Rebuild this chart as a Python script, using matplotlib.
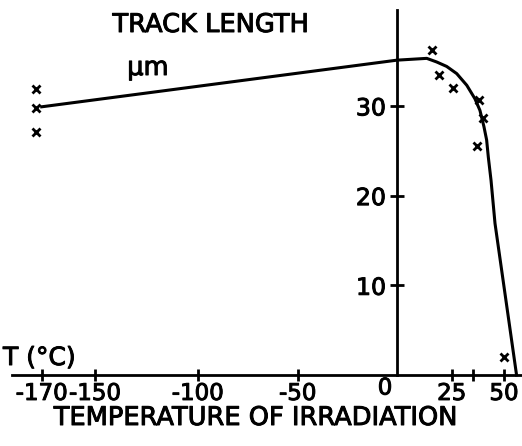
import numpy as np
import matplotlib
matplotlib.use("Agg")
import matplotlib.pyplot as plt
import matplotlib.patheffects as pe
from matplotlib.scale import FuncScale

# fitted curve (temperature in degC, track length in um)
curve_t = [-170, 0, 13.6, 18.1, 22.7, 27.4, 32.2, 36.1, 38.5, 40.4, 41.7, 42.5, 43.8, 45.7, 56.0]
curve_len = [29.9, 35.1, 35.3, 34.9, 34.4, 33.6, 32.3, 30.8, 29.5, 27.7, 26.2, 24.3, 21.7, 16.9, 0.0]

# measured points
pts_t = [-172, -172, -172, 15.9, 19.3, 25.8, 38.0, 39.8, 37.0, 50.0]
pts_len = [31.9, 29.8, 27.1, 36.2, 33.5, 32.0, 30.7, 28.7, 25.5, 2.0]

x_ticks = [-170, -150, -100, -50, 25, 35, 50]
x_tick_labels = ["-170", "-150", "-100", "-50", "25", "", "50"]
y_ticks = [10, 20, 30]

# the hand drawn temperature axis is not evenly spaced
knot_t = [-170, -150, -100, -50, 0, 25, 50]
knot_px = [41.7, 95, 197.7, 297.7, 397, 451.7, 504]
lo_slope = (knot_px[1] - knot_px[0]) / (knot_t[1] - knot_t[0])
hi_slope = (knot_px[-1] - knot_px[-2]) / (knot_t[-1] - knot_t[-2])
kt = [-1000] + knot_t + [1000]
kp = [knot_px[0] - 830 * lo_slope] + knot_px + [knot_px[-1] + 950 * hi_slope]


def fwd(t):
    return np.interp(np.asarray(t, float), kt, kp)


def inv(p):
    return np.interp(np.asarray(p, float), kp, kt)


W, H = 522, 446
fig = plt.figure(figsize=(W / 100, H / 100), dpi=100)
ax = fig.add_axes([0, 0, 1, 1])
ax.set_xscale(FuncScale(ax, (fwd, inv)))
ax.set_xlim(float(inv(0)), float(inv(W)))
ax.set_ylim((375 - H) / 8.97, 375 / 8.97)

ax.plot(curve_t, curve_len, color="black", lw=2.2)
ax.plot(pts_t, pts_len, ls="none", marker="x", color="black", ms=6, mew=2)

for s in ["top", "right"]:
    ax.spines[s].set_visible(False)
ax.spines["left"].set_position(("data", 0))
ax.spines["bottom"].set_position(("data", 0))
ax.spines["left"].set_linewidth(2)
ax.spines["bottom"].set_linewidth(2)
ax.spines["left"].set_bounds(0, 40.7)
ax.spines["bottom"].set_bounds(float(inv(12)), float(inv(W)))

ax.set_xticks(x_ticks)
ax.set_xticklabels(x_tick_labels)
ax.set_yticks(y_ticks)
ax.minorticks_off()
ax.tick_params(axis="x", direction="inout", length=8, width=2, pad=1, labelsize=16.5)
ax.tick_params(axis="y", direction="inout", length=10, width=2, pad=3, labelsize=17)

texts = []
texts.append(ax.annotate("0", xy=(0, 0), xytext=(-12, -13), textcoords="offset pixels",
                         ha="center", va="center", fontsize=16.5))
texts.append(fig.text(211 / W, 1 - 25 / H, "TRACK LENGTH", ha="center", va="center", fontsize=18.5))
texts.append(fig.text(148 / W, 1 - 68 / H, "μm", ha="center", va="center", fontsize=18.5))
texts.append(fig.text(3 / W, 1 - 358 / H, "T (°C)", ha="left", va="center", fontsize=18))
texts.append(fig.text(256 / W, 1 - 418 / H, "TEMPERATURE OF IRRADIATION",
                      ha="center", va="center", fontsize=18.5))
texts += ax.get_xticklabels() + ax.get_yticklabels()

# slightly heavier lettering, like the ink drawing
for t in texts:
    t.set_path_effects([pe.withStroke(linewidth=0.7, foreground="black")])

fig.savefig("out.png", dpi=100)
